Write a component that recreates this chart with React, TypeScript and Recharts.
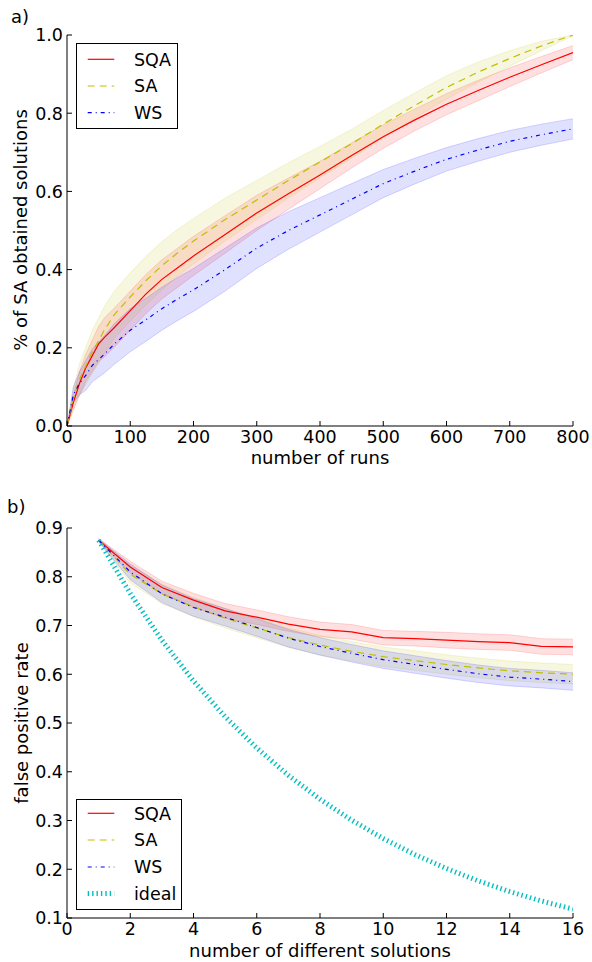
import React from 'react';
import { ComposedChart, Line, Area, XAxis, YAxis, Legend } from 'recharts';

const FONT = "'DejaVu Sans', 'Bitstream Vera Sans', sans-serif";
const FS = 17.5;
const FS_LABEL = 18;

// ---------- Panel a: % of SA obtained solutions vs number of runs ----------
const runs = [0, 5, 10, 20, 30, 40, 50, 60, 75, 100, 125, 150, 175, 200, 250, 300, 350, 400, 450, 500, 550, 600, 650, 700, 750, 800];
const sqaA = [0, 0.03, 0.06, 0.11, 0.15, 0.18, 0.21, 0.228, 0.252, 0.295, 0.338, 0.375, 0.405, 0.435, 0.49, 0.545, 0.594, 0.642, 0.692, 0.74, 0.783, 0.823, 0.858, 0.892, 0.924, 0.955];
const saA = [0, 0.035, 0.07, 0.12, 0.155, 0.19, 0.218, 0.248, 0.285, 0.33, 0.372, 0.41, 0.443, 0.473, 0.528, 0.578, 0.628, 0.675, 0.722, 0.772, 0.82, 0.866, 0.905, 0.94, 0.972, 1.0];
const wsA = [0, 0.04, 0.08, 0.11, 0.13, 0.155, 0.17, 0.185, 0.21, 0.245, 0.272, 0.30, 0.325, 0.348, 0.40, 0.455, 0.5, 0.54, 0.58, 0.62, 0.652, 0.682, 0.706, 0.728, 0.745, 0.76];
const sqaErrA = [0, 0.01, 0.02, 0.03, 0.035, 0.04, 0.045, 0.05, 0.05, 0.05, 0.05, 0.05, 0.05, 0.05, 0.048, 0.045, 0.04, 0.035, 0.032, 0.03, 0.028, 0.027, 0.026, 0.024, 0.021, 0.018];
const saErrA = [0, 0.012, 0.025, 0.04, 0.048, 0.055, 0.058, 0.06, 0.06, 0.062, 0.062, 0.062, 0.06, 0.058, 0.055, 0.05, 0.045, 0.04, 0.037, 0.035, 0.032, 0.03, 0.026, 0.02, 0.012, 0.002];
const wsErrA = [0, 0.01, 0.02, 0.03, 0.038, 0.042, 0.045, 0.048, 0.052, 0.055, 0.055, 0.055, 0.055, 0.055, 0.055, 0.052, 0.048, 0.044, 0.04, 0.036, 0.033, 0.03, 0.029, 0.028, 0.027, 0.026];
const runTicks = [0, 100, 200, 300, 400, 500, 600, 700, 800];
const fracTicks = [0, 0.2, 0.4, 0.6, 0.8, 1.0];

// ---------- Panel b: false positive rate vs number of different solutions ----------
const nSolutions = [1, 2, 3, 4, 5, 6, 7, 8, 9, 10, 11, 12, 13, 14, 15, 16];
const sqaB = [0.875, 0.82, 0.778, 0.752, 0.73, 0.717, 0.703, 0.692, 0.687, 0.675, 0.673, 0.67, 0.667, 0.665, 0.657, 0.656];
const saB = [0.875, 0.805, 0.765, 0.738, 0.715, 0.695, 0.675, 0.66, 0.647, 0.636, 0.628, 0.62, 0.613, 0.607, 0.603, 0.6];
const wsB = [0.875, 0.81, 0.765, 0.737, 0.717, 0.696, 0.674, 0.657, 0.643, 0.63, 0.62, 0.61, 0.601, 0.594, 0.59, 0.585];
const idealB = [0.875, 0.7656, 0.6699, 0.5862, 0.5129, 0.4488, 0.3927, 0.3436, 0.3007, 0.2631, 0.2302, 0.2014, 0.1763, 0.1542, 0.1349, 0.1181];
const sqaErrB = [0.003, 0.012, 0.013, 0.014, 0.015, 0.015, 0.015, 0.015, 0.015, 0.015, 0.015, 0.016, 0.016, 0.016, 0.016, 0.016];
const saErrB = [0.003, 0.018, 0.02, 0.02, 0.02, 0.02, 0.02, 0.02, 0.02, 0.02, 0.02, 0.02, 0.02, 0.02, 0.02, 0.02];
const wsErrB = [0.003, 0.016, 0.018, 0.018, 0.018, 0.018, 0.018, 0.018, 0.018, 0.018, 0.018, 0.018, 0.018, 0.018, 0.018, 0.018];
const solTicks = [0, 2, 4, 6, 8, 10, 12, 14, 16];
const fprTicks = [0.1, 0.2, 0.3, 0.4, 0.5, 0.6, 0.7, 0.8, 0.9];

const C = { sqa: '#ff0000', sa: '#bfbf00', ws: '#0000ff', ideal: '#00bfbf' };
const DASH_SA = '7 5';
const DASH_WS = '4 4 1 4';
const DASH_IDEAL = '1.4 3';

const band = (m: number, e: number, hi = 10) => [Math.max(0, m - e), Math.min(hi, m + e)];

const dataA = runs.map((x, i) => ({
  x,
  sqa: sqaA[i],
  sa: saA[i],
  ws: wsA[i],
  sqaBand: band(sqaA[i], sqaErrA[i], 1),
  saBand: band(saA[i], saErrA[i], 1),
  wsBand: band(wsA[i], wsErrA[i], 1),
}));

const dataB = nSolutions.map((x, i) => ({
  x,
  sqa: sqaB[i],
  sa: saB[i],
  ws: wsB[i],
  ideal: idealB[i],
  sqaBand: band(sqaB[i], sqaErrB[i]),
  saBand: band(saB[i], saErrB[i]),
  wsBand: band(wsB[i], wsErrB[i]),
}));

const TL = 5;
const axisStyle = { stroke: '#000', strokeWidth: 1 };

const makeBottomTick = (fmt: (v: number) => string) => (p: any) => (
  <g>
    <line x1={p.x} x2={p.x} y1={p.y} y2={p.y - TL} stroke="#000" strokeWidth={1} />
    <text x={p.x} y={p.y + 16.5} textAnchor="middle" fontFamily={FONT} fontSize={FS} fill="#000">
      {fmt(p.payload.value)}
    </text>
  </g>
);
const TopTick = (p: any) => (
  <line x1={p.x} x2={p.x} y1={p.y} y2={p.y + TL} stroke="#000" strokeWidth={1} />
);
const makeLeftTick = (fmt: (v: number) => string) => (p: any) => (
  <g>
    <line x1={p.x} x2={p.x + TL} y1={p.y} y2={p.y} stroke="#000" strokeWidth={1} />
    <text x={p.x - 4} y={p.y + 6.3} textAnchor="end" fontFamily={FONT} fontSize={FS} fill="#000">
      {fmt(p.payload.value)}
    </text>
  </g>
);
const RightTick = (p: any) => (
  <line x1={p.x} x2={p.x - TL} y1={p.y} y2={p.y} stroke="#000" strokeWidth={1} />
);

type LegendItem = { name: string; color: string; dash?: string; width: number };

const LegendBox = ({ items, w, h, rows }: { items: LegendItem[]; w: number; h: number; rows: number[] }) => (
  <svg width={w} height={h} style={{ display: 'block' }}>
    <rect x={0.5} y={0.5} width={w - 1} height={h - 1} fill="#fff" stroke="#000" strokeWidth={1} />
    {items.map((it, i) => (
      <g key={it.name}>
        <line x1={11.7} x2={38.3} y1={rows[i]} y2={rows[i]} stroke={it.color} strokeWidth={it.width} strokeDasharray={it.dash} />
        <text x={58} y={rows[i] + 6.3} fontFamily={FONT} fontSize={FS} fill="#000">
          {it.name}
        </text>
      </g>
    ))}
  </svg>
);

const legendA: LegendItem[] = [
  { name: 'SQA', color: C.sqa, width: 1.2 },
  { name: 'SA', color: C.sa, dash: DASH_SA, width: 1.2 },
  { name: 'WS', color: C.ws, dash: DASH_WS, width: 1.2 },
];
const legendB: LegendItem[] = [...legendA, { name: 'ideal', color: C.ideal, dash: DASH_IDEAL, width: 5 }];

const bandProps = (color: string) => ({
  type: 'linear' as const,
  fill: color,
  fillOpacity: 0.12,
  stroke: color,
  strokeOpacity: 0.15,
  strokeWidth: 1,
  isAnimationActive: false,
  activeDot: false,
  dot: false,
  legendType: 'none' as const,
});

const lineProps = (color: string, dash?: string, width = 1.2) => ({
  type: 'linear' as const,
  stroke: color,
  strokeWidth: width,
  strokeDasharray: dash,
  dot: false,
  activeDot: false,
  isAnimationActive: false,
});

function PanelA() {
  return (
    <ComposedChart width={592} height={480} data={dataA} margin={{ top: 35, right: 19, bottom: 0, left: 0 }}>
      <XAxis dataKey="x" type="number" domain={[0, 800]} ticks={runTicks} interval={0} height={54}
        tickSize={0} tickMargin={0} tickLine={false} axisLine={axisStyle} allowDataOverflow
        tick={makeBottomTick((v) => String(v))} />
      <XAxis xAxisId="top" orientation="top" dataKey="x" type="number" domain={[0, 800]} ticks={runTicks}
        interval={0} height={0} tickSize={0} tickMargin={0} tickLine={false} axisLine={axisStyle}
        allowDataOverflow tick={TopTick} />
      <YAxis type="number" domain={[0, 1]} ticks={fracTicks} interval={0} width={67} tickSize={0}
        tickMargin={0} tickLine={false} axisLine={axisStyle} allowDataOverflow
        tick={makeLeftTick((v) => v.toFixed(1))} />
      <YAxis yAxisId="right" orientation="right" type="number" domain={[0, 1]} ticks={fracTicks}
        interval={0} width={0} tickSize={0} tickMargin={0} tickLine={false} axisLine={axisStyle}
        allowDataOverflow tick={RightTick} />
      <Area dataKey="sqaBand" {...bandProps(C.sqa)} />
      <Area dataKey="saBand" {...bandProps(C.sa)} />
      <Area dataKey="wsBand" {...bandProps(C.ws)} />
      <Line dataKey="sqa" name="SQA" {...lineProps(C.sqa)} />
      <Line dataKey="sa" name="SA" {...lineProps(C.sa, DASH_SA)} />
      <Line dataKey="ws" name="WS" {...lineProps(C.ws, DASH_WS)} />
      <Legend layout="vertical" align="center" verticalAlign="middle"
        wrapperStyle={{ left: 76, top: 43, width: 102, height: 86 }}
        content={() => <LegendBox items={legendA} w={102} h={86} rows={[16.3, 43, 69.7]} />} />
    </ComposedChart>
  );
}

function PanelB() {
  return (
    <ComposedChart width={592} height={482} data={dataB} margin={{ top: 48, right: 19, bottom: 0, left: 0 }}>
      <XAxis dataKey="x" type="number" domain={[0, 16]} ticks={solTicks} interval={0} height={44}
        tickSize={0} tickMargin={0} tickLine={false} axisLine={axisStyle} allowDataOverflow
        tick={makeBottomTick((v) => String(v))} />
      <XAxis xAxisId="top" orientation="top" dataKey="x" type="number" domain={[0, 16]} ticks={solTicks}
        interval={0} height={0} tickSize={0} tickMargin={0} tickLine={false} axisLine={axisStyle}
        allowDataOverflow tick={TopTick} />
      <YAxis type="number" domain={[0.1, 0.9]} ticks={fprTicks} interval={0} width={67} tickSize={0}
        tickMargin={0} tickLine={false} axisLine={axisStyle} allowDataOverflow
        tick={makeLeftTick((v) => v.toFixed(1))} />
      <YAxis yAxisId="right" orientation="right" type="number" domain={[0.1, 0.9]} ticks={fprTicks}
        interval={0} width={0} tickSize={0} tickMargin={0} tickLine={false} axisLine={axisStyle}
        allowDataOverflow tick={RightTick} />
      <Area dataKey="sqaBand" {...bandProps(C.sqa)} />
      <Area dataKey="saBand" {...bandProps(C.sa)} />
      <Area dataKey="wsBand" {...bandProps(C.ws)} />
      <Line dataKey="sqa" name="SQA" {...lineProps(C.sqa)} />
      <Line dataKey="sa" name="SA" {...lineProps(C.sa, DASH_SA)} />
      <Line dataKey="ws" name="WS" {...lineProps(C.ws, DASH_WS)} />
      <Line dataKey="ideal" name="ideal" {...lineProps(C.ideal, DASH_IDEAL, 5)} />
      <Legend layout="vertical" align="center" verticalAlign="middle"
        wrapperStyle={{ left: 76, top: 319, width: 106, height: 111 }}
        content={() => <LegendBox items={legendB} w={106} h={111} rows={[14.3, 41, 68, 94.5]} />} />
    </ComposedChart>
  );
}

export default function App() {
  const t = { fontFamily: FONT, fontSize: FS_LABEL, fill: '#000' };
  return (
    <div style={{ position: 'absolute', left: 0, top: 0, width: 592, height: 962, background: '#fff', overflow: 'hidden' }}>
      <div style={{ position: 'absolute', left: 0, top: 0 }}>
        <PanelA />
      </div>
      <div style={{ position: 'absolute', left: 0, top: 480 }}>
        <PanelB />
      </div>
      <svg width={592} height={962} style={{ position: 'absolute', left: 0, top: 0, pointerEvents: 'none' }}>
        <text x={11} y={22.5} {...t}>a)</text>
        <text x={7} y={513} {...t}>b)</text>
        <text transform="translate(27,230) rotate(-90)" textAnchor="middle" {...t}>% of SA obtained solutions</text>
        <text x={320} y={464} textAnchor="middle" {...t}>number of runs</text>
        <text transform="translate(28,723) rotate(-90)" textAnchor="middle" {...t}>false positive rate</text>
        <text x={320} y={956.5} textAnchor="middle" {...t}>number of different solutions</text>
      </svg>
    </div>
  );
}
